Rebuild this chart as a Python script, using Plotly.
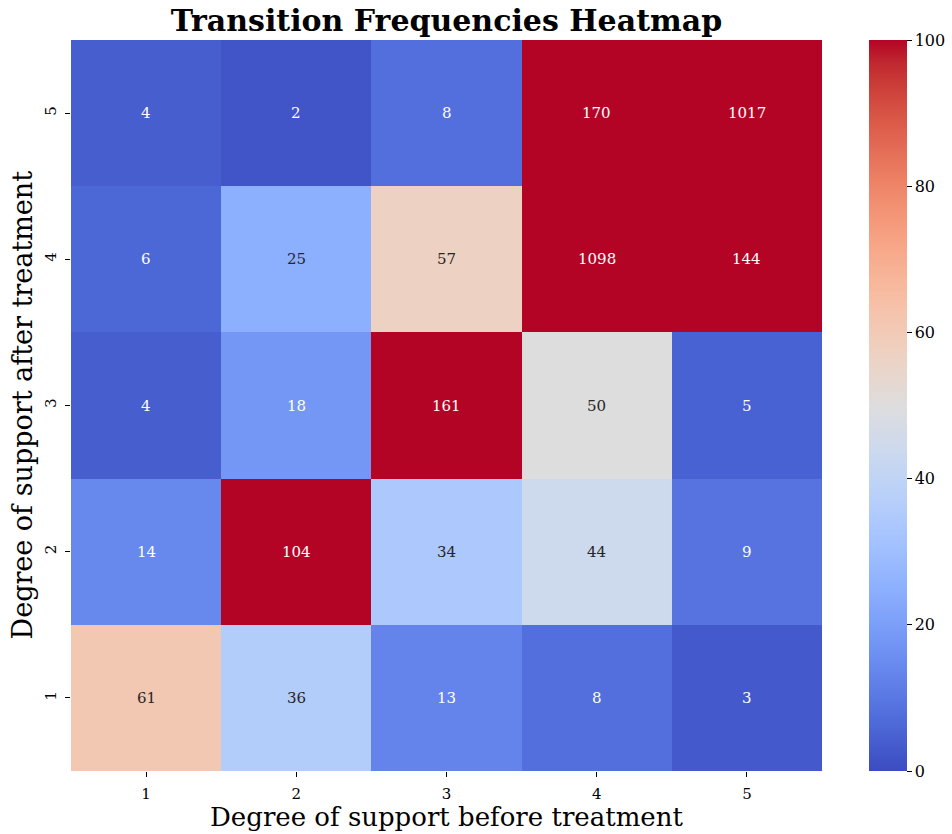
import plotly.graph_objects as go

# Support levels (before treatment on x, after treatment on y)
before_levels = [1, 2, 3, 4, 5]
after_levels = [1, 2, 3, 4, 5]

# Transition counts, one list per "after" level (bottom row first)
after_1 = [61, 36, 13, 8, 3]
after_2 = [14, 104, 34, 44, 9]
after_3 = [4, 18, 161, 50, 5]
after_4 = [6, 25, 57, 1098, 144]
after_5 = [4, 2, 8, 170, 1017]
counts = [after_1, after_2, after_3, after_4, after_5]

colorbar_ticks = [0, 20, 40, 60, 80, 100]
z_min, z_max = 0, 100

# Diverging cool-warm palette (Moreland)
cw_table = [
    (0.0, 59, 76, 192), (0.03125, 68, 90, 204), (0.0625, 77, 104, 215),
    (0.09375, 87, 117, 225), (0.125, 98, 130, 234), (0.15625, 108, 142, 241),
    (0.1875, 119, 154, 247), (0.21875, 130, 165, 251), (0.25, 141, 176, 254),
    (0.28125, 152, 185, 255), (0.3125, 163, 194, 255), (0.34375, 174, 201, 253),
    (0.375, 184, 208, 249), (0.40625, 194, 213, 244), (0.4375, 204, 217, 238),
    (0.46875, 213, 219, 230), (0.5, 221, 221, 221), (0.53125, 229, 216, 209),
    (0.5625, 236, 211, 197), (0.59375, 241, 204, 185), (0.625, 245, 196, 173),
    (0.65625, 247, 187, 160), (0.6875, 247, 177, 148), (0.71875, 247, 166, 135),
    (0.75, 244, 154, 123), (0.78125, 241, 141, 111), (0.8125, 236, 127, 99),
    (0.84375, 229, 112, 88), (0.875, 222, 96, 77), (0.90625, 213, 80, 66),
    (0.9375, 203, 62, 56), (0.96875, 192, 40, 47), (1.0, 180, 4, 38),
]
colorscale = [[p, f"rgb({r},{g},{b})"] for p, r, g, b in cw_table]


def cw_rgb(v):
    t = min(max((v - z_min) / (z_max - z_min), 0.0), 1.0)
    for (p0, r0, g0, b0), (p1, r1, g1, b1) in zip(cw_table[:-1], cw_table[1:]):
        if p0 <= t <= p1:
            f = (t - p0) / (p1 - p0) if p1 > p0 else 0
            return (r0 + f * (r1 - r0), g0 + f * (g1 - g0), b0 + f * (b1 - b0))
    return cw_table[-1][1:]


def luminance(rgb):
    lin = []
    for c in rgb:
        c = c / 255.0
        lin.append(c / 12.92 if c <= 0.03928 else ((c + 0.055) / 1.055) ** 2.4)
    return 0.2126 * lin[0] + 0.7152 * lin[1] + 0.0722 * lin[2]


FONT = "DejaVu Serif"
W, H = 952, 834
L, R, T, B = 71, 130, 40, 63
plot_w = W - L - R
plot_h = H - T - B

fig = go.Figure(
    go.Heatmap(
        x=before_levels,
        y=after_levels,
        z=counts,
        zmin=z_min,
        zmax=z_max,
        colorscale=colorscale,
        hoverinfo="x+y+z",
        colorbar=dict(
            xref="container",
            x=869 / W,
            xanchor="left",
            xpad=0,
            ypad=0,
            y=0.5,
            yanchor="middle",
            len=1.0,
            lenmode="fraction",
            thickness=38,
            outlinewidth=0,
            tickvals=colorbar_ticks,
            ticks="outside",
            ticklen=5,
            tickwidth=1,
            tickcolor="black",
            tickfont=dict(family=FONT, size=16, color="black"),
        ),
    )
)

# Cell annotations, light or dark depending on the cell colour
for yi, row in zip(after_levels, counts):
    for xi, val in zip(before_levels, row):
        col = "#262626" if luminance(cw_rgb(val)) > 0.408 else "white"
        fig.add_annotation(
            x=xi, y=yi, text=str(val), showarrow=False,
            font=dict(family=FONT, size=15, color=col),
        )

# Axis titles drawn as annotations at fixed offsets from the plot area
fig.add_annotation(
    text="Degree of support after treatment",
    xref="paper", yref="paper",
    x=(22 - L) / plot_w, y=0.5,
    xanchor="center", yanchor="middle",
    textangle=-90, showarrow=False,
    font=dict(family=FONT, size=27, color="black"),
)
fig.add_annotation(
    text="Degree of support before treatment",
    xref="paper", yref="paper",
    x=0.5, y=-(817 - (H - B)) / plot_h,
    xanchor="center", yanchor="middle",
    showarrow=False,
    font=dict(family=FONT, size=26, color="black"),
)

fig.update_layout(
    width=W,
    height=H,
    margin=dict(l=L, r=R, t=T, b=B, autoexpand=False),
    paper_bgcolor="white",
    plot_bgcolor="white",
    font=dict(family=FONT, color="black"),
    title=dict(
        text="<b>Transition Frequencies Heatmap</b>",
        font=dict(family=FONT, size=30, color="black"),
        x=(L + W - R) / 2 / W,
        xref="container",
        xanchor="center",
        yref="container",
        y=1 - 20 / H,
        yanchor="middle",
    ),
    xaxis=dict(
        tickvals=before_levels,
        ticktext=[str(v) for v in before_levels],
        ticks="outside", ticklen=5, tickcolor="black",
        ticklabelstandoff=4,
        tickfont=dict(family=FONT, size=15, color="black"),
        range=[0.5, 5.5], showgrid=False, zeroline=False, showline=False,
        automargin=False,
    ),
    yaxis=dict(
        tickvals=after_levels,
        ticktext=[str(v) for v in after_levels],
        tickangle=-90,
        ticks="outside", ticklen=5, tickcolor="black",
        ticklabelstandoff=3,
        tickfont=dict(family=FONT, size=15, color="black"),
        range=[0.5, 5.5], showgrid=False, zeroline=False, showline=False,
        automargin=False,
    ),
)

fig.write_html("out.html")
